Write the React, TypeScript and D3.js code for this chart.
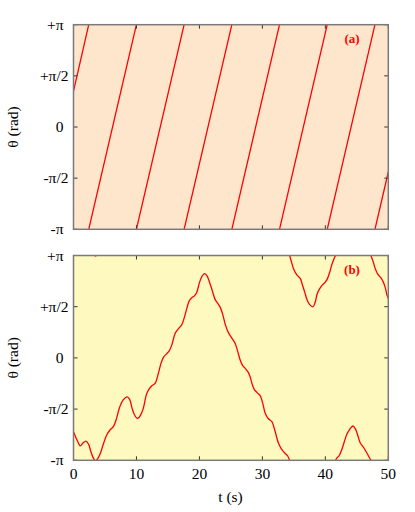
import React from 'react';
import * as d3 from 'd3';

// Panel (a): unwrapped phase θ/π at the points where it wraps (straight segments)
const tA = [0, 2.42, 9.99, 17.57, 25.15, 32.72, 40.3, 47.88, 50];
const phaseA = [0.35, 1, 3, 5, 7, 9, 11, 13, 13.56];

// Panel (b): unwrapped phase θ/π
const tB = [
  0, 0.56, 1.08, 1.51, 1.99, 2.38, 2.78, 3.18, 3.5, 3.9, 4.29, 4.69, 5.28, 5.8, 6.33, 6.76,
  7.31, 7.87, 8.51, 8.9, 9.3, 9.7, 10.17, 10.65, 11.05, 11.61, 12.0, 12.48, 12.96, 13.48,
  13.91, 14.31, 14.82, 15.18, 15.61, 16.14, 16.61, 17.2, 17.57, 18.0, 18.36, 18.79, 19.16,
  19.55, 20.03, 20.43, 20.79, 21.14, 21.59, 22.02, 22.5, 22.89, 23.29, 23.69, 24.09, 24.56,
  25.15, 25.68, 26.07, 26.47, 26.87, 27.27, 27.74, 28.06, 28.38, 28.7, 29.17, 29.65, 30.05,
  30.45, 30.92, 31.51, 31.96, 32.56, 32.99, 33.62, 34.02, 34.32, 34.98, 35.45, 36.01, 36.33,
  36.72, 37.12, 37.52, 38.03, 38.39, 38.71, 39.11, 39.51, 39.98, 40.3, 40.7, 41.1, 41.75,
  42.21, 42.64, 43.0, 43.4, 43.85, 44.39, 44.83, 45.23, 45.55, 46.03, 46.5, 46.9, 47.23,
  47.62, 47.93, 48.33, 48.81, 49.21, 49.52, 49.79, 50,
];
const phaseB = [
  -0.721, -0.802, -0.86, -0.831, -0.812, -0.841, -0.919, -0.982, -1.005, -0.978, -0.929,
  -0.851, -0.753, -0.704, -0.672, -0.607, -0.485, -0.412, -0.38, -0.402, -0.49, -0.558,
  -0.592, -0.558, -0.5, -0.353, -0.304, -0.27, -0.249, -0.151, -0.051, 0.008, 0.042, 0.066,
  0.125, 0.239, 0.281, 0.325, 0.388, 0.483, 0.554, 0.588, 0.603, 0.637, 0.74, 0.798, 0.822,
  0.808, 0.742, 0.661, 0.569, 0.535, 0.496, 0.427, 0.33, 0.252, 0.193, 0.141, 0.066, -0.021,
  -0.075, -0.102, -0.139, -0.187, -0.256, -0.307, -0.339, -0.368, -0.441, -0.541, -0.592,
  -0.623, -0.704, -0.834, -0.885, -0.934, -0.958, -1.0, -1.134, -1.187, -1.224, -1.28,
  -1.358, -1.436, -1.48, -1.502, -1.456, -1.373, -1.324, -1.29, -1.26, -1.231, -1.163,
  -1.075, -0.985, -0.953, -0.89, -0.821, -0.748, -0.7, -0.665, -0.7, -0.773, -0.831, -0.87,
  -0.919, -0.963, -1.0, -1.065, -1.129, -1.182, -1.217, -1.26, -1.314, -1.387, -1.42,
];

const xTicks = [0, 10, 20, 30, 40, 50];
const yTickValues = [1, 0.5, 0, -0.5, -1];
const yTickLabels = ['+π', '+π/2', '0', '-π/2', '-π'];

const W = 415;
const H = 512;
const L = 73.5;
const R = 388.3;
const FONT = '"Times New Roman", Times, "Liberation Serif", serif';

type PanelProps = {
  id: string;
  top: number;
  bottom: number;
  t: number[];
  v: number[];
  bg: string;
  label: string;
  curve: d3.CurveFactory;
  showX: boolean;
};

function Panel({ id, top, bottom, t, v, bg, label, curve, showX }: PanelProps) {
  const x = d3.scaleLinear().domain([0, 50]).range([L, R]);
  const y = d3.scaleLinear().domain([-1, 1]).range([bottom, top]);
  const vmin = d3.min(v) as number;
  const vmax = d3.max(v) as number;
  const shifts: number[] = [];
  for (let k = -12; k <= 12; k++) {
    const s = 2 * k;
    if (vmin + s < 1 && vmax + s > -1) shifts.push(s);
  }
  const idx = d3.range(t.length);
  const mkLine = (s: number) =>
    d3
      .line<number>()
      .x((i) => x(t[i]))
      .y((i) => y(v[i] + s))
      .curve(curve)(idx) || '';
  const tl = 4;
  return (
    <g>
      <defs>
        <clipPath id={id}>
          <rect x={L} y={top} width={R - L} height={bottom - top} />
        </clipPath>
      </defs>
      <rect x={L} y={top} width={R - L} height={bottom - top} fill={bg} />
      <g clipPath={`url(#${id})`}>
        {shifts.map((s) => (
          <path key={s} d={mkLine(s)} fill="none" stroke="#ff0000" strokeWidth={1.3} />
        ))}
      </g>
      {yTickValues.map((tv) => (
        <g key={'y' + tv}>
          <line x1={L} x2={L + tl} y1={y(tv)} y2={y(tv)} stroke="#333" strokeWidth={1} />
          <line x1={R} x2={R - tl} y1={y(tv)} y2={y(tv)} stroke="#333" strokeWidth={1} />
        </g>
      ))}
      {xTicks.map((xv) => (
        <g key={'x' + xv}>
          <line x1={x(xv)} x2={x(xv)} y1={bottom} y2={bottom - tl} stroke="#333" strokeWidth={1} />
          <line x1={x(xv)} x2={x(xv)} y1={top} y2={top + tl} stroke="#333" strokeWidth={1} />
        </g>
      ))}
      <rect
        x={L}
        y={top}
        width={R - L}
        height={bottom - top}
        fill="none"
        stroke="#7a7a7a"
        strokeWidth={1.5}
      />
      {yTickValues.map((tv, i) => (
        <text
          key={'yl' + tv}
          x={yTickLabels[i].includes('/') ? 68.5 : 63.5}
          y={y(tv) + 5}
          textAnchor="end"
          style={{ fontFamily: FONT, fontSize: '15.5px' }}
          fill="#000"
        >
          {yTickLabels[i]}
        </text>
      ))}
      {showX &&
        xTicks.map((xv) => (
          <text
            key={'xl' + xv}
            x={x(xv)}
            y={bottom + 19}
            textAnchor="middle"
            style={{ fontFamily: FONT, fontSize: '15.5px' }}
            fill="#000"
          >
            {xv}
          </text>
        ))}
      <text
        transform={`translate(18, ${(top + bottom) / 2}) rotate(-90)`}
        textAnchor="middle"
        style={{ fontFamily: FONT, fontSize: '15.5px' }}
        fill="#000"
      >
        θ (rad)
      </text>
      <text
        x={352}
        y={top + 18}
        textAnchor="middle"
        style={{ fontFamily: FONT, fontSize: '13px', fontWeight: 'bold' }}
        fill="#ff0000"
      >
        {label}
      </text>
    </g>
  );
}

export default function App() {
  return (
    <svg
      width={W}
      height={H}
      viewBox={`0 0 ${W} ${H}`}
      style={{ position: 'absolute', left: 0, top: 0, background: '#fff' }}
    >
      <Panel
        id="clipA"
        top={24.7}
        bottom={229.3}
        t={tA}
        v={phaseA}
        bg="#fde6cc"
        label="(a)"
        curve={d3.curveLinear}
        showX={false}
      />
      <Panel
        id="clipB"
        top={255.5}
        bottom={460.3}
        t={tB}
        v={phaseB}
        bg="#fdf9bf"
        label="(b)"
        curve={d3.curveCatmullRom}
        showX={true}
      />
      <text
        x={230.5}
        y={502}
        textAnchor="middle"
        style={{ fontFamily: FONT, fontSize: '15.5px' }}
        fill="#000"
      >
        t (s)
      </text>
    </svg>
  );
}
